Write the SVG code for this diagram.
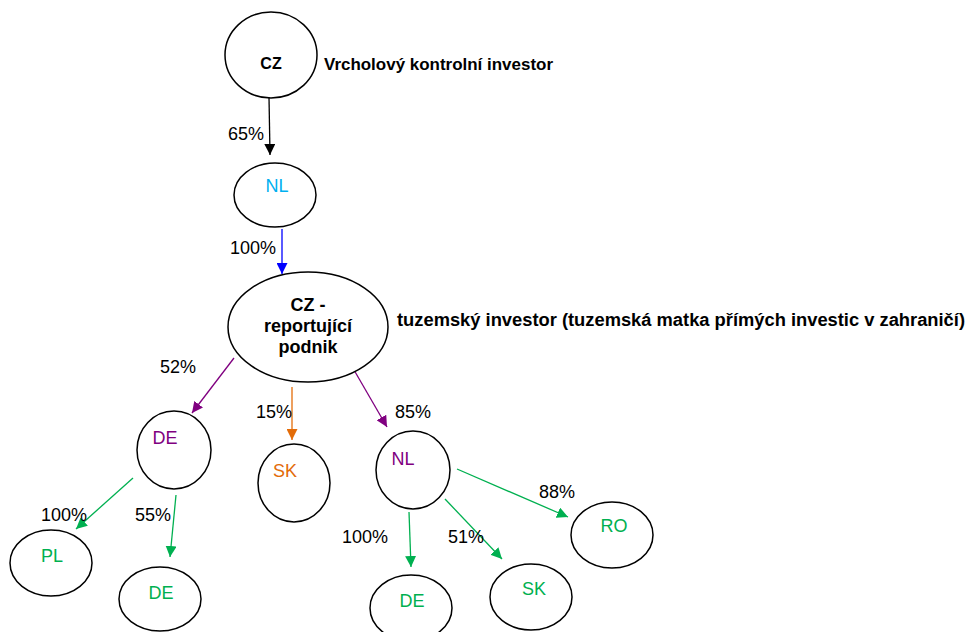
<svg xmlns="http://www.w3.org/2000/svg" width="968" height="632" viewBox="0 0 968 632">
<style>
  .n{fill:#fff;stroke:#000;stroke-width:1.5}
  text{font-family:"Liberation Sans",Arial,sans-serif}
  .t{font-size:18px}
  .b{font-weight:bold}
  .p{font-size:18px;fill:#000}
  .c{stroke-width:1.3;fill:none}
  .blk{stroke:#000}
  .blu{stroke:#0000FF}
  .pur{stroke:#800080}
  .org{stroke:#E36C09}
  .grn{stroke:#00B050}
</style>
<defs>
  <marker id="aBlk" viewBox="0 0 10 10" refX="10" refY="5" markerWidth="11" markerHeight="11" markerUnits="userSpaceOnUse" orient="auto"><path d="M0,0 L10,5 L0,10 z" fill="#000"/></marker>
  <marker id="aBlu" viewBox="0 0 10 10" refX="10" refY="5" markerWidth="11" markerHeight="11" markerUnits="userSpaceOnUse" orient="auto"><path d="M0,0 L10,5 L0,10 z" fill="#0000FF"/></marker>
  <marker id="aPur" viewBox="0 0 10 10" refX="10" refY="5" markerWidth="11" markerHeight="11" markerUnits="userSpaceOnUse" orient="auto"><path d="M0,0 L10,5 L0,10 z" fill="#800080"/></marker>
  <marker id="aOrg" viewBox="0 0 10 10" refX="10" refY="5" markerWidth="11" markerHeight="11" markerUnits="userSpaceOnUse" orient="auto"><path d="M0,0 L10,5 L0,10 z" fill="#E36C09"/></marker>
  <marker id="aGrn" viewBox="0 0 10 10" refX="10" refY="5" markerWidth="11" markerHeight="11" markerUnits="userSpaceOnUse" orient="auto"><path d="M0,0 L10,5 L0,10 z" fill="#00B050"/></marker>
</defs>

<g id="connectors">
  <line class="c blk" x1="269" y1="97" x2="270" y2="155" marker-end="url(#aBlk)"/>
  <line class="c blu" x1="282" y1="229" x2="282" y2="274" marker-end="url(#aBlu)"/>
  <line class="c pur" x1="234" y1="358" x2="192" y2="413" marker-end="url(#aPur)"/>
  <line class="c org" x1="292" y1="387" x2="292" y2="440" marker-end="url(#aOrg)"/>
  <line class="c pur" x1="354" y1="370" x2="387" y2="427" marker-end="url(#aPur)"/>
  <line class="c grn" x1="133" y1="478" x2="76" y2="529" marker-end="url(#aGrn)"/>
  <line class="c grn" x1="176" y1="495" x2="170" y2="557" marker-end="url(#aGrn)"/>
  <line class="c grn" x1="457" y1="469" x2="568" y2="517" marker-end="url(#aGrn)"/>
  <line class="c grn" x1="445" y1="499" x2="502" y2="559" marker-end="url(#aGrn)"/>
  <line class="c grn" x1="409" y1="512" x2="411" y2="567" marker-end="url(#aGrn)"/>
  <text class="p" x="228" y="140">65%</text>
  <text class="p" x="230" y="254">100%</text>
  <text class="p" x="160" y="373">52%</text>
  <text class="p" x="256" y="418">15%</text>
  <text class="p" x="395" y="418">85%</text>
  <text class="p" x="41" y="521">100%</text>
  <text class="p" x="135" y="521">55%</text>
  <text class="p" x="539" y="498">88%</text>
  <text class="p" x="342" y="543">100%</text>
  <text class="p" x="448" y="543">51%</text>
</g>

<g id="cz-top">
  <ellipse class="n" cx="271" cy="55" rx="46" ry="43"/>
  <text class="b" x="271" y="69" font-size="16" text-anchor="middle">CZ</text>
  <text class="b" x="324" y="70" font-size="17" textLength="229" lengthAdjust="spacingAndGlyphs">Vrcholový kontrolní investor</text>
</g>

<g id="nl-mid">
  <ellipse class="n" cx="275" cy="195" rx="41" ry="32"/>
  <text class="t" x="277" y="192" text-anchor="middle" fill="#00B0F0">NL</text>
</g>

<g id="cz-report">
  <ellipse class="n" cx="308" cy="327" rx="80" ry="55"/>
  <text class="b" font-size="18" text-anchor="middle" fill="#000"><tspan x="308" y="311">CZ -</tspan><tspan x="308" y="332">reportující</tspan><tspan x="308" y="353">podnik</tspan></text>
  <text class="b" x="397" y="326" font-size="17.5" textLength="568" lengthAdjust="spacingAndGlyphs">tuzemský investor (tuzemská matka přímých investic v zahraničí)</text>
</g>

<g id="de-purple">
  <ellipse class="n" cx="174" cy="450" rx="37" ry="39"/>
  <text class="t" x="165" y="444" text-anchor="middle" fill="#800080">DE</text>
</g>

<g id="sk-orange">
  <ellipse class="n" cx="294" cy="483" rx="36" ry="39"/>
  <text class="t" x="285" y="477" text-anchor="middle" fill="#E36C09">SK</text>
</g>

<g id="nl-purple">
  <ellipse class="n" cx="413" cy="470" rx="37" ry="39"/>
  <text class="t" x="403" y="465" text-anchor="middle" fill="#800080">NL</text>
</g>

<g id="pl-green">
  <ellipse class="n" cx="51" cy="563" rx="41" ry="33"/>
  <text class="t" x="52" y="562" text-anchor="middle" fill="#00B050">PL</text>
</g>

<g id="de-green-left">
  <ellipse class="n" cx="160" cy="599" rx="41" ry="32"/>
  <text class="t" x="161" y="599" text-anchor="middle" fill="#00B050">DE</text>
</g>

<g id="de-green-right">
  <ellipse class="n" cx="411" cy="608" rx="41" ry="33"/>
  <text class="t" x="412" y="607" text-anchor="middle" fill="#00B050">DE</text>
</g>

<g id="sk-green">
  <ellipse class="n" cx="531" cy="597" rx="41" ry="33"/>
  <text class="t" x="534" y="595" text-anchor="middle" fill="#00B050">SK</text>
</g>

<g id="ro-green">
  <ellipse class="n" cx="612" cy="535" rx="41" ry="33"/>
  <text class="t" x="614" y="532" text-anchor="middle" fill="#00B050">RO</text>
</g>
</svg>
